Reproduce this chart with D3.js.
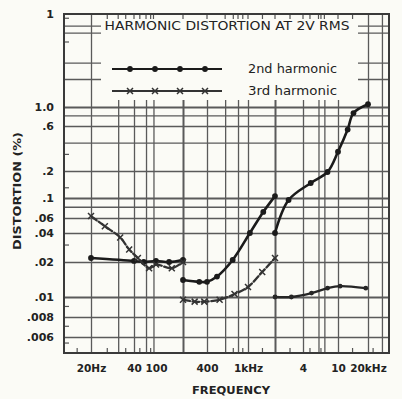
<!DOCTYPE html>
<html>
<head>
<meta charset="utf-8">
<script src="https://cdn.jsdelivr.net/npm/d3@7"></script>
<style>
  html, body { margin: 0; padding: 0; background: #fbfbf6; }
  svg { display: block; }
  text { font-family: "DejaVu Sans", sans-serif; fill: #222; }
</style>
</head>
<body>
<svg id="chart" width="402" height="399"></svg>
<script>
// ---- Frequency axis (Hz) ----
const freqTicks = [20, 40, 100, 400, 1000, 4000, 10000, 20000];
const freqTickLabels = ["20Hz", "40", "100", "400", "1kHz", "4", "10", "20kHz"];
const freqGrid = [20, 31, 40, 66, 90, 200, 400, 600, 800, 1000, 2000, 4000, 6000, 7000, 10000, 20000, 27600];
const freqHeavy = [200, 2000];
const freqMinor = [16, 26, 35, 51, 80, 720, 890, 1450, 2900, 4800, 6400, 14000, 22500];

// ---- Distortion axis (%) ----
const distTicks = [10, 1, 0.6, 0.2, 0.1, 0.06, 0.04, 0.02, 0.01, 0.008, 0.006];
const distTickLabels = ["1", "1.0", ".6", ".2", ".1", ".06", ".04", ".02", ".01", ".008", ".006"];
const distGrid = [7.5, 6.3, 3, 2, 1, 0.8, 0.6, 0.4, 0.2, 0.1, 0.08, 0.06, 0.04, 0.02, 0.01, 0.008, 0.006];
const distHeavy = [1, 0.1, 0.01];
const distMinor = [9, 5, 0.3, 0.13, 0.03, 0.009, 0.007, 0.0055];

// ---- Measured distortion, % ----
// 2nd harmonic, 20 Hz - 200 Hz
const h2LowFreq = [20, 40, 60, 100, 140, 200];
const h2LowPct  = [0.022, 0.0205, 0.02, 0.0205, 0.02, 0.021];
// 2nd harmonic, 200 Hz - 2 kHz
const h2MidFreq = [200, 320, 400, 500, 710, 1050, 1480, 2000];
const h2MidPct  = [0.014, 0.0135, 0.0135, 0.015, 0.021, 0.04, 0.07, 0.105];
// 2nd harmonic, 2 kHz - 20 kHz
const h2HighFreq = [2000, 2800, 4900, 7600, 10000, 12500, 14300, 20000];
const h2HighPct  = [0.04, 0.095, 0.147, 0.195, 0.32, 0.55, 0.85, 1.07];
// 3rd harmonic, 20 Hz - 200 Hz
const h3LowFreq = [20, 25, 32, 37, 47, 75, 100, 150, 200];
const h3LowPct  = [0.063, 0.048, 0.036, 0.027, 0.022, 0.0177, 0.019, 0.0177, 0.02];
// 3rd harmonic, 200 Hz - 2 kHz
const h3MidFreq = [200, 280, 370, 530, 740, 1000, 1440, 2000];
const h3MidPct  = [0.0097, 0.0095, 0.0095, 0.0097, 0.0106, 0.0122, 0.0164, 0.022];
// 3rd harmonic, 2 kHz - 20 kHz
const h3HighFreq = [2000, 3000, 5000, 7600, 10500, 19000];
const h3HighPct  = [0.01, 0.01, 0.0108, 0.0119, 0.0124, 0.0119];

// ---- Layout ----
const layout = {
  left: 64, right: 389, top: 14, bottom: 353,
  // graph-paper calibration: the printed scale is not evenly spaced
  xAnchorHz: [20, 40, 100, 200, 400, 1000, 2000, 4000, 10000, 20000],
  xAnchorPx: [91, 134, 156, 183, 207, 248, 275, 303, 338, 368],
  yAnchorPct: [10, 1, 0.6, 0.2, 0.1, 0.06, 0.04, 0.02, 0.01, 0.008, 0.006],
  yAnchorPx: [14, 107, 126, 171, 198, 218, 233, 262, 297, 317, 337],
  legendBox: { x0: 101, x1: 358, y0: 15, y1: 100 },
  legendLine: { x0: 112, x1: 222, marks: [130, 155, 180, 205], textX: 248 }
};

const L = Math.log10;
const xs = d3.scaleLinear().domain(layout.xAnchorHz.map(L)).range(layout.xAnchorPx);
const ys = d3.scaleLinear().domain(layout.yAnchorPct.map(L)).range(layout.yAnchorPx);
const X = f => xs(L(f));
const Y = v => ys(L(v));

const svg = d3.select("#chart");
const W = layout.right - layout.left, H = layout.bottom - layout.top;
const isIn = (list, d) => list.map(L).some(v => Math.abs(v - d) < 1e-9);

// ---- grid ----
const gridX = svg.append("g")
  .attr("transform", `translate(0,${layout.bottom})`)
  .call(d3.axisBottom(xs).tickValues(freqGrid.map(L)).tickSize(-H).tickFormat(""));
gridX.select(".domain").remove();
gridX.selectAll(".tick line")
  .attr("stroke", "#5a5a5a")
  .attr("stroke-width", d => isIn(freqHeavy, d) ? 2 : 1.3);

const gridY = svg.append("g")
  .attr("transform", `translate(${layout.left},0)`)
  .call(d3.axisLeft(ys).tickValues(distGrid.map(L)).tickSize(-W).tickFormat(""));
gridY.select(".domain").remove();
gridY.selectAll(".tick line")
  .attr("stroke", "#5a5a5a")
  .attr("stroke-width", d => isIn(distHeavy, d) ? 2 : 1.3);

// small ticks along the border
const minorG = svg.append("g").attr("stroke", "#555").attr("stroke-width", 1.2);
minorG.selectAll("line.mb").data(freqMinor).join("line")
  .attr("x1", d => X(d)).attr("x2", d => X(d))
  .attr("y1", layout.bottom).attr("y2", layout.bottom - 5);
minorG.selectAll("line.ml").data(distMinor).join("line")
  .attr("x1", layout.left).attr("x2", layout.left + 5)
  .attr("y1", d => Y(d)).attr("y2", d => Y(d));

// legend panel
const lb = layout.legendBox;
svg.append("rect")
  .attr("x", lb.x0).attr("y", lb.y0)
  .attr("width", lb.x1 - lb.x0).attr("height", lb.y1 - lb.y0)
  .attr("fill", "#fbfbf6");
const topTicks = freqGrid.concat(freqMinor).filter(f => X(f) > lb.x0 && X(f) < lb.x1);
svg.append("g").attr("stroke", "#555").attr("stroke-width", 1.2)
  .selectAll("line").data(topTicks).join("line")
  .attr("x1", d => X(d)).attr("x2", d => X(d))
  .attr("y1", layout.top).attr("y2", layout.top + 5);

// frame
svg.append("rect")
  .attr("x", layout.left).attr("y", layout.top)
  .attr("width", W).attr("height", H)
  .attr("fill", "none").attr("stroke", "#3a3a3a").attr("stroke-width", 2);

// ---- axes labels ----
const ax = svg.append("g")
  .attr("transform", `translate(0,${layout.bottom})`)
  .call(d3.axisBottom(xs).tickValues(freqTicks.map(L))
    .tickFormat((d, i) => freqTickLabels[i]).tickSize(0).tickPadding(12));
ax.select(".domain").remove();
ax.selectAll("text")
  .attr("font-family", "DejaVu Sans, sans-serif")
  .attr("font-size", 10.5).attr("font-weight", "bold").attr("fill", "#222");

const ay = svg.append("g")
  .attr("transform", `translate(${layout.left},0)`)
  .call(d3.axisLeft(ys).tickValues(distTicks.map(L))
    .tickFormat((d, i) => distTickLabels[i]).tickSize(0).tickPadding(10));
ay.select(".domain").remove();
ay.selectAll("text")
  .attr("font-family", "DejaVu Sans, sans-serif")
  .attr("font-size", 11).attr("font-weight", "bold").attr("fill", "#222");

svg.append("text")
  .attr("x", 231).attr("y", 394)
  .attr("text-anchor", "middle")
  .attr("font-size", 10.5).attr("font-weight", "bold")
  .attr("textLength", 78).attr("lengthAdjust", "spacingAndGlyphs")
  .text("FREQUENCY");

svg.append("text")
  .attr("transform", "translate(21,191) rotate(-90)")
  .attr("text-anchor", "middle")
  .attr("font-size", 10.5).attr("font-weight", "bold")
  .attr("textLength", 118).attr("lengthAdjust", "spacingAndGlyphs")
  .text("DISTORTION (%)");

// ---- title ----
svg.append("text")
  .attr("x", 227).attr("y", 30)
  .attr("text-anchor", "middle")
  .attr("font-size", 11.5)
  .attr("textLength", 245).attr("lengthAdjust", "spacingAndGlyphs")
  .text("HARMONIC DISTORTION AT 2V RMS");

// ---- series ----
const zip = (fs, vs) => fs.map((f, i) => ({ f, v: vs[i] }));
const series = [
  { pts: zip(h2LowFreq, h2LowPct), kind: "h2" },
  { pts: zip(h2MidFreq, h2MidPct), kind: "h2" },
  { pts: zip(h2HighFreq, h2HighPct), kind: "h2" },
  { pts: zip(h3LowFreq, h3LowPct), kind: "h3" },
  { pts: zip(h3MidFreq, h3MidPct), kind: "h3" },
  { pts: zip(h3HighFreq, h3HighPct), kind: "h3hi" }
];
const styles = {
  h2:   { stroke: "#1b1b1b", width: 2.6, dash: null, mark: "dot", r: 2.9, legendWidth: 2.2 },
  h3:   { stroke: "#333333", width: 2.3, dash: "7,2.5", mark: "x", r: 3, legendWidth: 1.8 },
  h3hi: { stroke: "#262626", width: 2.3, dash: null, mark: "dot", r: 2.4, legendWidth: 2 }
};
const line = d3.line().x(d => X(d.f)).y(d => Y(d.v)).curve(d3.curveCatmullRom.alpha(0.5));

function drawMark(g, cx, cy, st) {
  if (st.mark === "dot") {
    g.append("circle").attr("cx", cx).attr("cy", cy).attr("r", st.r).attr("fill", st.stroke);
  } else {
    const s = st.r;
    g.append("path")
      .attr("d", `M${cx - s},${cy - s}L${cx + s},${cy + s}M${cx - s},${cy + s}L${cx + s},${cy - s}`)
      .attr("stroke", st.stroke).attr("stroke-width", 1.5).attr("fill", "none");
  }
}

const plotG = svg.append("g");
series.forEach(s => {
  const st = styles[s.kind];
  plotG.append("path")
    .attr("d", line(s.pts))
    .attr("fill", "none")
    .attr("stroke", st.stroke)
    .attr("stroke-width", st.width)
    .attr("stroke-linecap", "round")
    .attr("stroke-dasharray", st.dash);
  s.pts.forEach(p => drawMark(plotG, X(p.f), Y(p.v), st));
});

// ---- legend rows ----
const ll = layout.legendLine;
const legendRows = [
  { label: "2nd harmonic", kind: "h2", y: 69 },
  { label: "3rd harmonic", kind: "h3", y: 91 }
];
legendRows.forEach(row => {
  const st = styles[row.kind];
  svg.append("line")
    .attr("x1", ll.x0).attr("x2", ll.x1).attr("y1", row.y).attr("y2", row.y)
    .attr("stroke", st.stroke).attr("stroke-width", st.legendWidth);
  ll.marks.forEach(mx => drawMark(svg, mx, row.y, st));
  svg.append("text")
    .attr("x", ll.textX).attr("y", row.y + 4)
    .attr("font-size", 11.5)
    .attr("textLength", 89).attr("lengthAdjust", "spacingAndGlyphs")
    .text(row.label);
});
</script>
</body>
</html>
